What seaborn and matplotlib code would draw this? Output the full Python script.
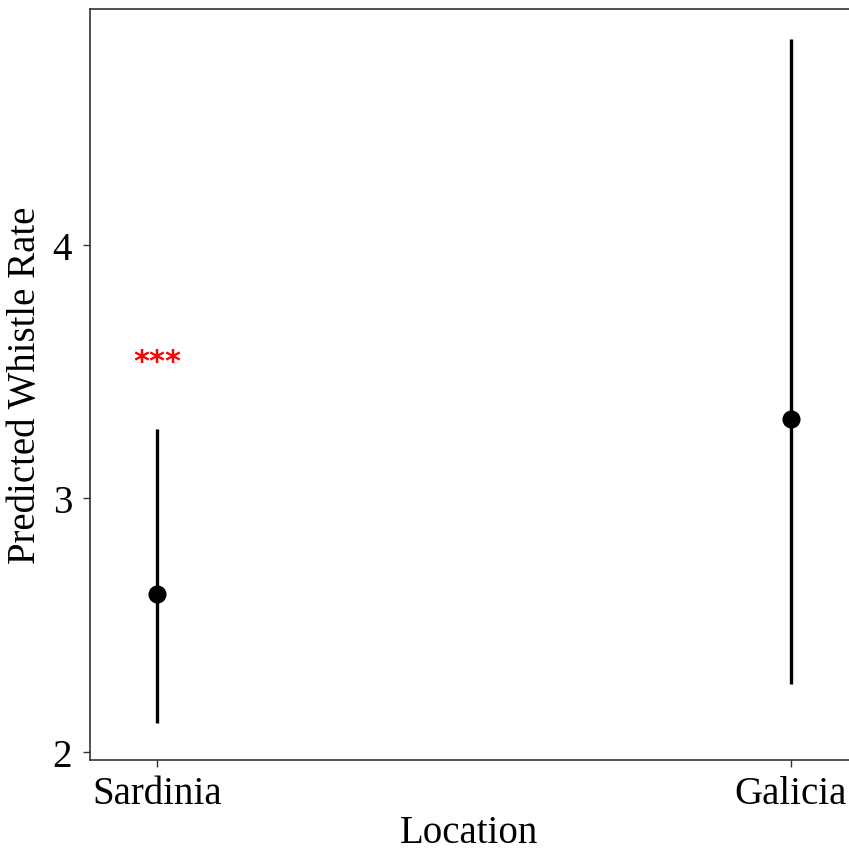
import matplotlib
matplotlib.use("Agg")
import matplotlib.pyplot as plt
import seaborn as sns
import pandas as pd

locations = ["Sardinia", "Galicia"]
predicted = [2.623, 3.314]
lower = [2.114, 2.268]
upper = [3.274, 4.813]
sig_label = ["***", ""]
sig_y = [3.54, None]

sns.set_theme(style="ticks")
plt.rcParams["font.family"] = ["Liberation Serif", "DejaVu Serif"]

df = pd.DataFrame({"Location": locations, "Predicted": predicted,
                   "lo": lower, "hi": upper})

fig = plt.figure(figsize=(8.49, 8.53), dpi=100)
ax = fig.add_axes([90/849, (853-761)/853, (849-90)/849, (761-10)/853])

ax.vlines(x=range(len(locations)), ymin=df["lo"], ymax=df["hi"],
          color="black", linewidth=2.4, zorder=2)
sns.pointplot(data=df, x="Location", y="Predicted", order=locations,
              color="black", linestyle="none", errorbar=None,
              markers="o", markersize=11, ax=ax, zorder=3)

for i, (lab, yy) in enumerate(zip(sig_label, sig_y)):
    if lab:
        ax.text(i, yy, lab, color="red", ha="center", va="center",
                fontsize=22, fontweight="bold", family=["DejaVu Sans"])

ax.set_xlim(-0.1057, 1.0915)
ax.set_ylim(1.968, 4.931)
ax.set_yticks([2, 3, 4])
ax.set_yticklabels(["2", "3", "4"])
ax.set_xlabel("Location", fontsize=28, color="black", labelpad=1)
ax.set_ylabel("Predicted Whistle Rate", fontsize=28, color="black", labelpad=6)
ax.tick_params(axis="both", labelsize=28, colors="black", length=5, width=1,
               direction="out", color="#333333")
ax.tick_params(axis="x", pad=6)
ax.tick_params(axis="y", pad=8)
for s in ["left", "bottom", "top"]:
    ax.spines[s].set_color("#333333")
    ax.spines[s].set_linewidth(1.2)
ax.spines["right"].set_visible(False)

fig.savefig("out.png", dpi=100)
